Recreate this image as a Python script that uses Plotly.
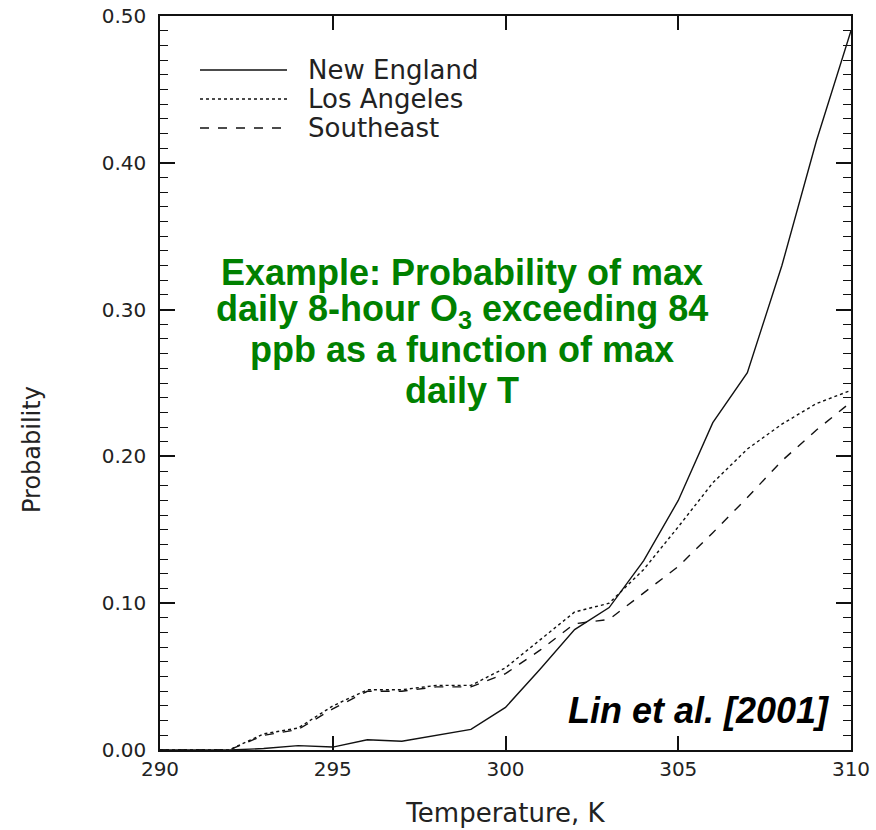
import plotly.graph_objects as go

temperature = list(range(290, 311))
new_england = [0, 0, 0, 0.001, 0.003, 0.002, 0.007, 0.006, 0.010, 0.014, 0.029,
               0.055, 0.082, 0.097, 0.129, 0.170, 0.223, 0.257, 0.330, 0.415, 0.490]
los_angeles = [0, 0, 0, 0.011, 0.015, 0.030, 0.041, 0.041, 0.044, 0.044, 0.056,
               0.075, 0.094, 0.100, 0.123, 0.152, 0.182, 0.205, 0.222, 0.236, 0.245]
southeast = [0, 0, 0, 0.010, 0.014, 0.028, 0.040, 0.040, 0.043, 0.043, 0.052,
             0.068, 0.086, 0.089, 0.107, 0.125, 0.148, 0.172, 0.197, 0.218, 0.237]

series_names = ["New England", "Los Angeles", "Southeast"]
series_dash = ["solid", "dot", "dash"]
series_values = [new_england, los_angeles, southeast]

y_tickvals = [0.0, 0.1, 0.2, 0.3, 0.4, 0.5]
y_ticktext = ["0.00", "0.10", "0.20", "0.30", "0.40", "0.50"]
x_tickvals = [290, 295, 300, 305, 310]

note_lines = ["Example: Probability of max",
              "daily 8-hour O<sub>3</sub> exceeding 84",
              "ppb as a function of max",
              "daily T"]

INK = "#111111"
TXT = "#222222"
TICKFONT = dict(family="DejaVu Sans", size=20, color=TXT)

# page body margin is removed below; plot area spans page px x 160..851, y 16..750
W, H = 876, 830
PX0, PX1, PY0, PY1 = 160, 851, 16, 750
L, T = PX0, PY0
R, B = W - PX1, H - PY1


def dx(px):
    return (px - PX0) / (PX1 - PX0)


def dy(py):
    return (PY1 - py) / (PY1 - PY0)


fig = go.Figure()
for name, dash, vals in zip(series_names, series_dash, series_values):
    fig.add_trace(go.Scatter(x=temperature, y=vals, mode="lines", name=name,
                             line=dict(color=INK, width=1.4, dash=dash),
                             showlegend=False))

# custom legend (long line samples like the original)
leg_py = [70, 99, 128]
for name, dash, py in zip(series_names, series_dash, leg_py):
    fig.add_shape(type="line", xref="x domain", yref="y domain",
                  x0=dx(200), x1=dx(287), y0=dy(py), y1=dy(py),
                  line=dict(color=INK, width=1.4, dash=dash))
    fig.add_annotation(xref="x domain", yref="y domain", x=dx(306), y=dy(py),
                       text=name, showarrow=False, xanchor="left", yanchor="middle",
                       font=dict(family="DejaVu Sans", size=26, color=TXT))

# green note
note_py = [272, 311, 350, 390]
for txt, py in zip(note_lines, note_py):
    fig.add_annotation(xref="x domain", yref="y domain", x=dx(462), y=dy(py),
                       text="<b>" + txt + "</b>", showarrow=False,
                       xanchor="center", yanchor="middle",
                       font=dict(family="Liberation Sans", size=36, color="#008000"))

fig.add_annotation(xref="x domain", yref="y domain", x=dx(831), y=dy(710),
                   text="<b><i>Lin et al. [2001]</i></b>", showarrow=False,
                   xanchor="right", yanchor="middle",
                   font=dict(family="Liberation Sans", size=36, color="black"))

fig.add_annotation(xref="x domain", yref="y domain", x=dx(32), y=dy(450),
                   text="Probability", textangle=-90, showarrow=False,
                   xanchor="center", yanchor="middle",
                   font=dict(family="DejaVu Sans", size=24, color=TXT))

fig.update_xaxes(range=[290, 310], tickvals=x_tickvals, ticks="inside", ticklen=14,
                 tickwidth=1.5, tickcolor=INK, showline=True, linecolor=INK,
                 linewidth=1.5, mirror="ticks", showgrid=False, zeroline=False,
                 tickfont=TICKFONT, automargin=False, ticklabeloverflow="allow",
                 title=dict(text="Temperature, K", standoff=24,
                            font=dict(family="DejaVu Sans", size=26, color=TXT)))
fig.update_yaxes(range=[0, 0.5], tickvals=y_tickvals, ticktext=y_ticktext,
                 ticks="inside", ticklen=15, tickwidth=1.5, tickcolor=INK,
                 minor=dict(dtick=0.01, ticks="inside", ticklen=8, tickwidth=1.2,
                            tickcolor=INK, showgrid=False),
                 showline=True, linecolor=INK, linewidth=1.5, mirror="ticks",
                 showgrid=False, zeroline=False, tickfont=TICKFONT, automargin=False,
                 ticklabelstandoff=8, ticklabeloverflow="allow")

fig.update_layout(width=W, height=H, plot_bgcolor="white", paper_bgcolor="white",
                  margin=dict(l=L, r=R, t=T, b=B), showlegend=False)

fig.write_html("out.html", config={"displayModeBar": False},
               post_script="document.body.style.margin='0';"
                           "document.body.style.overflow='hidden';")
